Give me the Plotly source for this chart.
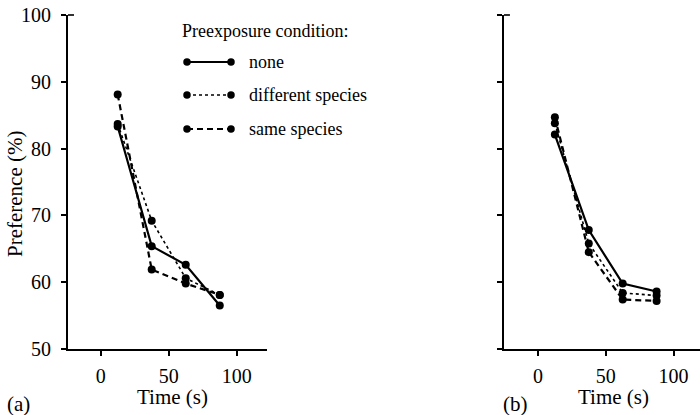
import plotly.graph_objects as go

# ---- data ----
TIME = [12.5, 37.5, 62.5, 87.5]
A_NONE = [83.3, 65.4, 62.6, 56.5]
A_DIFF = [83.7, 69.2, 60.6, 58.1]
A_SAME = [88.1, 61.9, 59.8, 58.1]
B_NONE = [82.1, 67.8, 59.8, 58.6]
B_DIFF = [83.8, 65.8, 58.4, 58.0]
B_SAME = [84.7, 64.5, 57.4, 57.2]
SERIES = ["none", "different species", "same species"]
Y_TICKS = [50, 60, 70, 80, 90, 100]
X_TICKS = [0, 50, 100]

FONT = "Liberation Serif"
W, H = 700, 415
STYLES = {
    "none": dict(color="black", width=2.2, dash="solid"),
    "different species": dict(color="black", width=1.6, dash="dot"),
    "same species": dict(color="black", width=2.2, dash="6px,4px"),
}

fig = go.Figure()
panels = [("x", "y", [A_NONE, A_DIFF, A_SAME]), ("x2", "y2", [B_NONE, B_DIFF, B_SAME])]
for xa, ya, data in panels:
    for name, vals in zip(SERIES, data):
        fig.add_trace(go.Scatter(
            x=TIME, y=vals, mode="lines+markers", name=name, xaxis=xa, yaxis=ya,
            line=STYLES[name], marker=dict(size=8, color="black"), showlegend=False))

# legend samples drawn in a pixel-space overlay axis
LEG_X = [187, 231]
LEG_Y = [62, 95, 129]
for name, ly in zip(SERIES, LEG_Y):
    fig.add_trace(go.Scatter(
        x=LEG_X, y=[ly, ly], mode="lines+markers", xaxis="x3", yaxis="y3",
        line=STYLES[name], marker=dict(size=7.5, color="black"), showlegend=False,
        hoverinfo="skip"))

ydom = [1 - 349 / H, 1 - 15 / H]
axis_common = dict(showgrid=False, zeroline=False, showline=True, linecolor="black",
                   linewidth=2, ticks="outside", ticklen=5, tickwidth=1.6, tickcolor="black",
                   automargin=False,
                   tickfont=dict(family=FONT, size=20, color="black"))

fig.update_layout(
    template="none",
    width=W, height=H, margin=dict(l=0, r=0, t=0, b=0, pad=0),
    paper_bgcolor="white", plot_bgcolor="rgba(0,0,0,0)",
    showlegend=False,
    xaxis=dict(domain=[68 / W, 266.7 / W], range=[-24, 122], tickvals=X_TICKS,
               anchor="y", ticklabelstandoff=3, **axis_common),
    yaxis=dict(domain=ydom, range=[50, 100], tickvals=Y_TICKS, anchor="x",
               ticklabelstandoff=6, **axis_common),
    xaxis2=dict(domain=[504 / W, 1.0], range=[-25, 119.5], tickvals=X_TICKS,
                anchor="y2", ticklabelstandoff=3, **axis_common),
    yaxis2=dict(domain=ydom, range=[50, 100], tickvals=Y_TICKS, anchor="x2",
                showticklabels=False, **axis_common),
    xaxis3=dict(domain=[0, 1], range=[0, W], visible=False, anchor="y3", automargin=False),
    yaxis3=dict(domain=[0, 1], range=[H, 0], visible=False, anchor="x3", automargin=False),
)

# caps at the top of the y axes
for x0 in (68, 504):
    fig.add_shape(type="line", xref="paper", yref="paper",
                  x0=x0 / W, x1=(x0 + 6) / W, y0=ydom[1], y1=ydom[1],
                  line=dict(color="black", width=1.6))

def txt(s, x, y, size, xanchor="center", **kw):
    fig.add_annotation(text=s, x=x / W, y=1 - y / H, xref="paper", yref="paper",
                       xanchor=xanchor, yanchor="middle", showarrow=False,
                       font=dict(family=FONT, size=size, color="black"), **kw)

txt("Time (s)", 172, 397, 21)
txt("Time (s)", 613, 397, 21)
txt("Preference (%)", 15, 194, 21, textangle=-90)
txt("(a)", 18, 404, 21)
txt("(b)", 515, 404, 21)
txt("Preexposure condition:", 180, 31, 18, xanchor="left")
for name, ly in zip(SERIES, LEG_Y):
    txt(name, 247, ly, 18, xanchor="left")

fig.write_html("out.html")
